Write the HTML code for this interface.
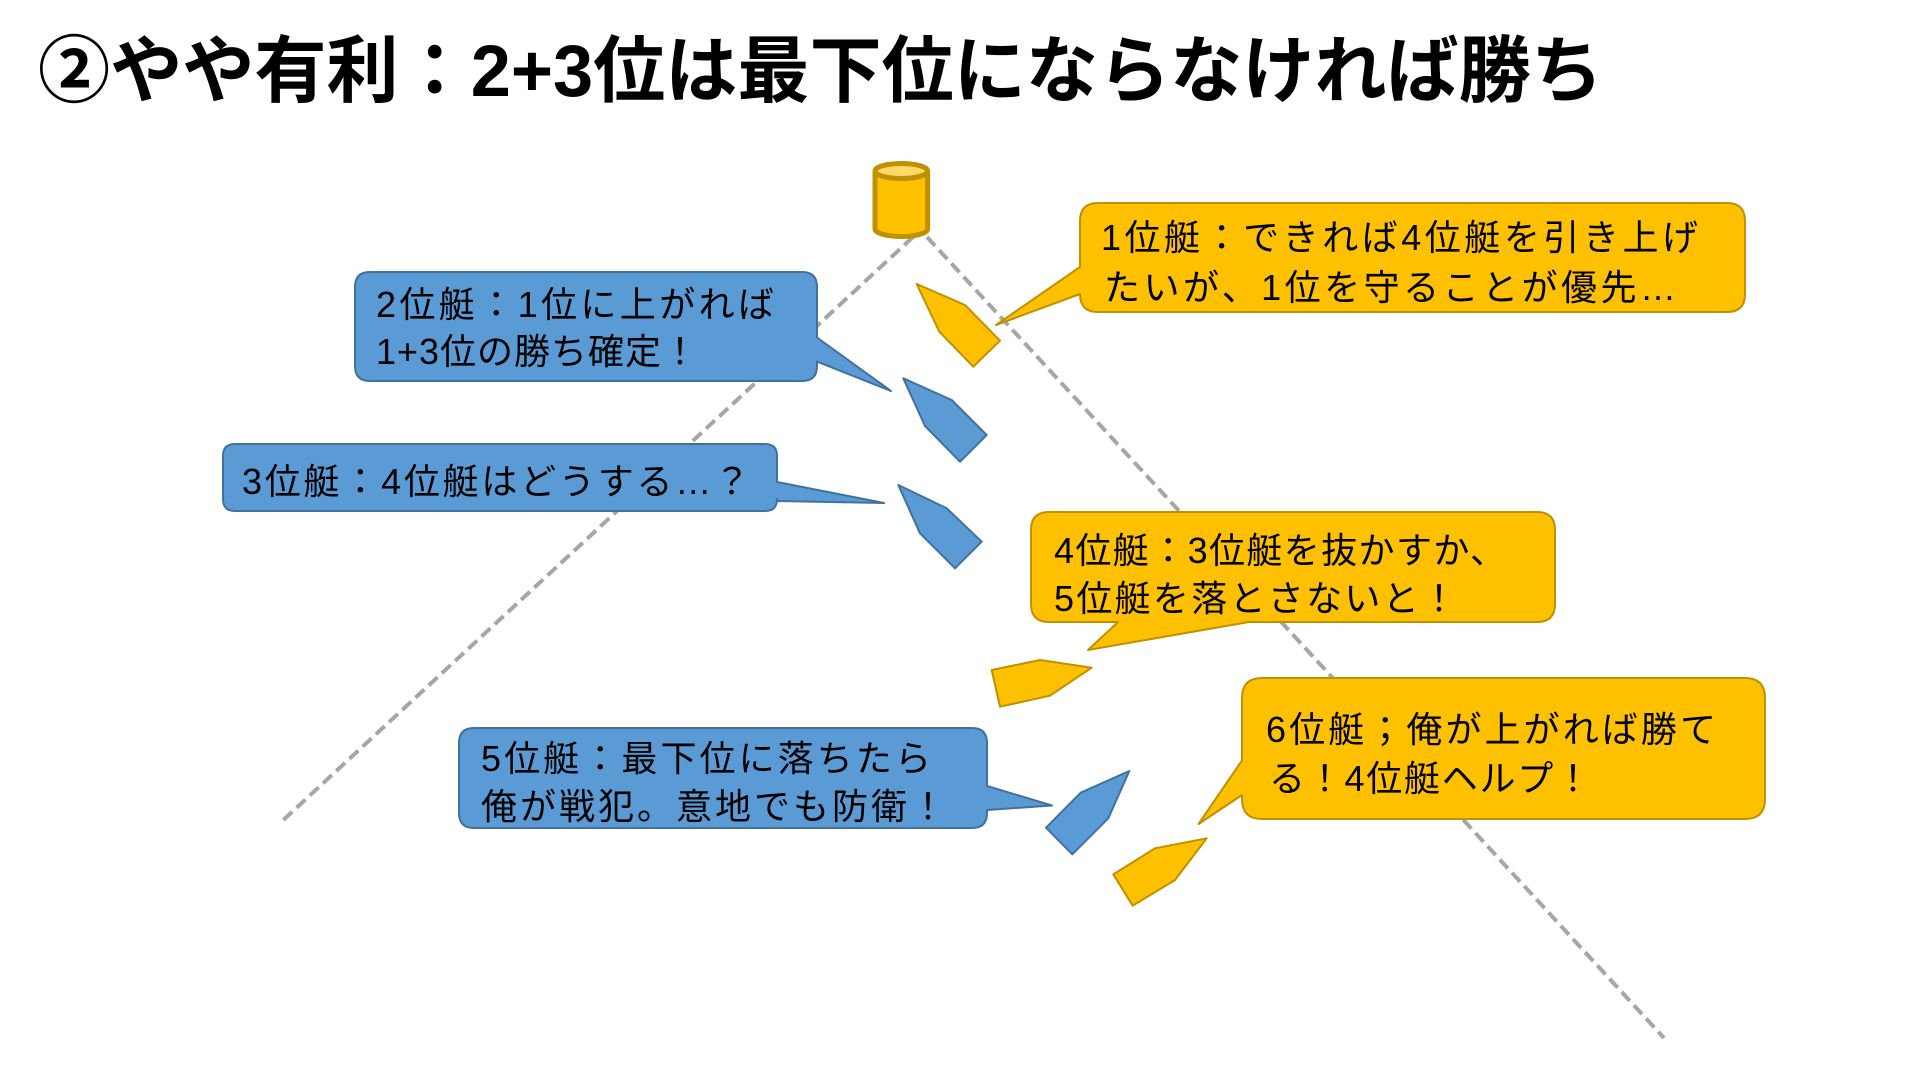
<!DOCTYPE html>
<html>
<head>
<meta charset="utf-8">
<style>
  html, body { margin: 0; padding: 0; background: #ffffff; }
  body { width: 1920px; height: 1080px; overflow: hidden; }
  svg { display: block; }
  .t { font-family: "Liberation Sans", "Noto Sans CJK JP", sans-serif; }
  .title { font-size: 73px; font-weight: bold; fill: #000; }
  .b { font-size: 36px; font-weight: normal; fill: #000; }
</style>
</head>
<body>
<svg width="1920" height="1080" viewBox="0 0 1920 1080" xmlns="http://www.w3.org/2000/svg">
  <!-- Title -->
  <text class="t title" x="38" y="96" textLength="1565" lengthAdjust="spacingAndGlyphs">②やや有利：2+3位は最下位にならなければ勝ち</text>

  <!-- Dashed course lines -->
  <line x1="913" y1="237" x2="279" y2="824" stroke="#A6A6A6" stroke-width="4" stroke-dasharray="12 6"/>
  <line x1="927" y1="237" x2="1664" y2="1038" stroke="#A6A6A6" stroke-width="4" stroke-dasharray="12 6"/>

  <!-- Buoy cylinder -->
  <path d="M875,171 L875,229 A26.3,7.5 0 0 0 927.6,229 L927.6,171 Z" fill="#FFC000" stroke="#BF9000" stroke-width="5" stroke-linejoin="round"/>
  <ellipse cx="901.3" cy="171" rx="26.3" ry="7.5" fill="#FFD966" stroke="#BF9000" stroke-width="5"/>

  <!-- Boats -->
  <polygon points="916.7,284 965,305 1000,340.7 973.3,366.7 939.3,331.7" fill="#FFC000" stroke="#BF9000" stroke-width="2" stroke-linejoin="round"/>
  <polygon points="903.3,378.3 951.7,400 986.7,435 960,461.7 925,426" fill="#5B9BD5" stroke="#41719C" stroke-width="2" stroke-linejoin="round"/>
  <polygon points="898.3,485 946.7,508.3 981.7,541.7 955,568.3 920,533.3" fill="#5B9BD5" stroke="#41719C" stroke-width="2" stroke-linejoin="round"/>
  <polygon points="991.7,670 1040,660 1091.7,667.7 1050,695.7 1000,706.7" fill="#FFC000" stroke="#BF9000" stroke-width="2" stroke-linejoin="round"/>
  <polygon points="1046,827.7 1080.7,792.7 1129.3,771 1108.3,818.3 1072.3,854.3" fill="#5B9BD5" stroke="#41719C" stroke-width="2" stroke-linejoin="round"/>
  <polygon points="1113.3,874.3 1155,848.3 1206.7,838.3 1175,880 1132.7,905.7" fill="#FFC000" stroke="#BF9000" stroke-width="2" stroke-linejoin="round"/>

  <!-- Bubble: 2位艇 (blue), tail on right edge -->
  <path d="M370,272 L802,272 Q817,272 817,287 L817,337.5 L891,391 L817,361.6 L817,366 Q817,381 802,381 L370,381 Q355,381 355,366 L355,287 Q355,272 370,272 Z" fill="#5B9BD5" stroke="#41719C" stroke-width="2" stroke-linejoin="round"/>

  <!-- Bubble: 3位艇 (blue), tail on right edge -->
  <path d="M235,444 L765,444 Q777,444 777,456 L777,482 L884,503 L777,501 L777,499 Q777,511 765,511 L235,511 Q223,511 223,499 L223,456 Q223,444 235,444 Z" fill="#5B9BD5" stroke="#41719C" stroke-width="2" stroke-linejoin="round"/>

  <!-- Bubble: 1位艇 (yellow), tail on left edge -->
  <path d="M1098,203 L1727,203 Q1745,203 1745,221 L1745,294 Q1745,312 1727,312 L1098,312 Q1080,312 1080,294 L1080,294 L996,325 L1080,267 L1080,221 Q1080,203 1098,203 Z" fill="#FFC000" stroke="#BF9000" stroke-width="2" stroke-linejoin="round"/>

  <!-- Bubble: 4位艇 (yellow), tail on bottom edge -->
  <path d="M1049,512 L1537,512 Q1555,512 1555,530 L1555,604 Q1555,622 1537,622 L1249,622 L1088,650 L1118,622 L1049,622 Q1031,622 1031,604 L1031,530 Q1031,512 1049,512 Z" fill="#FFC000" stroke="#BF9000" stroke-width="2" stroke-linejoin="round"/>

  <!-- Bubble: 6位艇 (yellow), tail on left edge -->
  <path d="M1262,678 L1745,678 Q1765,678 1765,698 L1765,799 Q1765,819 1745,819 L1262,819 Q1242,819 1242,799 L1242,795 L1198.5,824 L1242,760.4 L1242,698 Q1242,678 1262,678 Z" fill="#FFC000" stroke="#BF9000" stroke-width="2" stroke-linejoin="round"/>

  <!-- Bubble: 5位艇 (blue), tail on right edge -->
  <path d="M474,728 L972,728 Q987,728 987,743 L987,786 L1052,805.5 L987,810 L987,813 Q987,828 972,828 L474,828 Q459,828 459,813 L459,743 Q459,728 474,728 Z" fill="#5B9BD5" stroke="#41719C" stroke-width="2" stroke-linejoin="round"/>

  <!-- Bubble texts -->
  <text class="t b" x="376" y="317" textLength="398" lengthAdjust="spacing">2位艇：1位に上がれば</text>
  <text class="t b" x="376" y="364" textLength="322" lengthAdjust="spacing">1+3位の勝ち確定！</text>

  <text class="t b" x="242" y="494" textLength="508" lengthAdjust="spacing">3位艇：4位艇はどうする…？</text>

  <text class="t b" x="1101" y="250" textLength="597" lengthAdjust="spacing">1位艇：できれば4位艇を引き上げ</text>
  <text class="t b" x="1104" y="300" textLength="572" lengthAdjust="spacing">たいが、1位を守ることが優先…</text>

  <text class="t b" x="1054" y="563" textLength="452" lengthAdjust="spacing">4位艇：3位艇を抜かすか、</text>
  <text class="t b" x="1054" y="611" textLength="403" lengthAdjust="spacing">5位艇を落とさないと！</text>

  <text class="t b" x="1266" y="742" textLength="450" lengthAdjust="spacing">6位艇；俺が上がれば勝て</text>
  <text class="t b" x="1269" y="791" textLength="322" lengthAdjust="spacing">る！4位艇ヘルプ！</text>

  <text class="t b" x="481" y="771" textLength="450" lengthAdjust="spacing">5位艇：最下位に落ちたら</text>
  <text class="t b" x="481" y="819" textLength="465" lengthAdjust="spacing">俺が戦犯。意地でも防衛！</text>
</svg>
</body>
</html>
